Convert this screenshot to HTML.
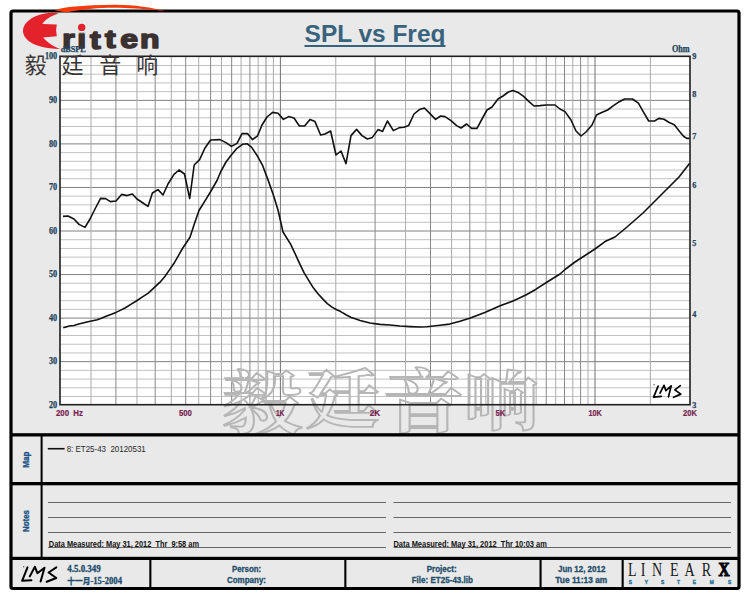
<!DOCTYPE html>
<html><head><meta charset="utf-8"><title>SPL vs Freq</title>
<style>
html,body{margin:0;padding:0;background:#fff;width:750px;height:600px;overflow:hidden}
svg{display:block}
.s{font-family:"Liberation Sans","Noto Sans CJK SC",sans-serif}
.ser{font-family:"Liberation Serif","Noto Serif CJK SC",serif}
.cjk{font-family:"Noto Sans CJK SC","WenQuanYi Zen Hei",sans-serif}
.wm{font-family:"Noto Serif CJK SC","Noto Serif CJK TC",serif}
</style></head><body>
<svg width="750" height="600" viewBox="0 0 750 600">
<rect x="0" y="0" width="750" height="600" fill="#fff"/>
<rect x="11" y="11" width="728" height="577.5" rx="2" fill="#e9e9e9" stroke="#000" stroke-width="3.2"/>

<rect x="60.0" y="56.3" width="630.0" height="348.4" fill="#fff"/>
<line x1="60.0" x2="690.0" y1="396.49" y2="396.49" stroke="#c2c2c2" stroke-width="1"/>
<line x1="60.0" x2="690.0" y1="387.78" y2="387.78" stroke="#c2c2c2" stroke-width="1"/>
<line x1="60.0" x2="690.0" y1="379.07" y2="379.07" stroke="#c2c2c2" stroke-width="1"/>
<line x1="60.0" x2="690.0" y1="370.36" y2="370.36" stroke="#c2c2c2" stroke-width="1"/>
<line x1="60.0" x2="690.0" y1="361.65" y2="361.65" stroke="#808080" stroke-width="1"/>
<line x1="60.0" x2="690.0" y1="352.94" y2="352.94" stroke="#c2c2c2" stroke-width="1"/>
<line x1="60.0" x2="690.0" y1="344.23" y2="344.23" stroke="#c2c2c2" stroke-width="1"/>
<line x1="60.0" x2="690.0" y1="335.52" y2="335.52" stroke="#c2c2c2" stroke-width="1"/>
<line x1="60.0" x2="690.0" y1="326.81" y2="326.81" stroke="#c2c2c2" stroke-width="1"/>
<line x1="60.0" x2="690.0" y1="318.1" y2="318.1" stroke="#808080" stroke-width="1"/>
<line x1="60.0" x2="690.0" y1="309.39" y2="309.39" stroke="#c2c2c2" stroke-width="1"/>
<line x1="60.0" x2="690.0" y1="300.68" y2="300.68" stroke="#c2c2c2" stroke-width="1"/>
<line x1="60.0" x2="690.0" y1="291.97" y2="291.97" stroke="#c2c2c2" stroke-width="1"/>
<line x1="60.0" x2="690.0" y1="283.26" y2="283.26" stroke="#c2c2c2" stroke-width="1"/>
<line x1="60.0" x2="690.0" y1="274.55" y2="274.55" stroke="#808080" stroke-width="1"/>
<line x1="60.0" x2="690.0" y1="265.84" y2="265.84" stroke="#c2c2c2" stroke-width="1"/>
<line x1="60.0" x2="690.0" y1="257.13" y2="257.13" stroke="#c2c2c2" stroke-width="1"/>
<line x1="60.0" x2="690.0" y1="248.42" y2="248.42" stroke="#c2c2c2" stroke-width="1"/>
<line x1="60.0" x2="690.0" y1="239.71" y2="239.71" stroke="#c2c2c2" stroke-width="1"/>
<line x1="60.0" x2="690.0" y1="231.0" y2="231.0" stroke="#808080" stroke-width="1"/>
<line x1="60.0" x2="690.0" y1="222.29" y2="222.29" stroke="#c2c2c2" stroke-width="1"/>
<line x1="60.0" x2="690.0" y1="213.58" y2="213.58" stroke="#c2c2c2" stroke-width="1"/>
<line x1="60.0" x2="690.0" y1="204.87" y2="204.87" stroke="#c2c2c2" stroke-width="1"/>
<line x1="60.0" x2="690.0" y1="196.16" y2="196.16" stroke="#c2c2c2" stroke-width="1"/>
<line x1="60.0" x2="690.0" y1="187.45" y2="187.45" stroke="#808080" stroke-width="1"/>
<line x1="60.0" x2="690.0" y1="178.74" y2="178.74" stroke="#c2c2c2" stroke-width="1"/>
<line x1="60.0" x2="690.0" y1="170.03" y2="170.03" stroke="#c2c2c2" stroke-width="1"/>
<line x1="60.0" x2="690.0" y1="161.32" y2="161.32" stroke="#c2c2c2" stroke-width="1"/>
<line x1="60.0" x2="690.0" y1="152.61" y2="152.61" stroke="#c2c2c2" stroke-width="1"/>
<line x1="60.0" x2="690.0" y1="143.9" y2="143.9" stroke="#808080" stroke-width="1"/>
<line x1="60.0" x2="690.0" y1="135.19" y2="135.19" stroke="#c2c2c2" stroke-width="1"/>
<line x1="60.0" x2="690.0" y1="126.48" y2="126.48" stroke="#c2c2c2" stroke-width="1"/>
<line x1="60.0" x2="690.0" y1="117.77" y2="117.77" stroke="#c2c2c2" stroke-width="1"/>
<line x1="60.0" x2="690.0" y1="109.06" y2="109.06" stroke="#c2c2c2" stroke-width="1"/>
<line x1="60.0" x2="690.0" y1="100.35" y2="100.35" stroke="#808080" stroke-width="1"/>
<line x1="60.0" x2="690.0" y1="91.64" y2="91.64" stroke="#c2c2c2" stroke-width="1"/>
<line x1="60.0" x2="690.0" y1="82.93" y2="82.93" stroke="#c2c2c2" stroke-width="1"/>
<line x1="60.0" x2="690.0" y1="74.22" y2="74.22" stroke="#c2c2c2" stroke-width="1"/>
<line x1="60.0" x2="690.0" y1="65.51" y2="65.51" stroke="#c2c2c2" stroke-width="1"/>
<line x1="90.99" x2="90.99" y1="56.3" y2="404.7" stroke="#ababab" stroke-width="1"/>
<line x1="115.9" x2="115.9" y1="56.3" y2="404.7" stroke="#888888" stroke-width="1"/>
<line x1="136.96" x2="136.96" y1="56.3" y2="404.7" stroke="#ababab" stroke-width="1"/>
<line x1="155.2" x2="155.2" y1="56.3" y2="404.7" stroke="#888888" stroke-width="1"/>
<line x1="171.3" x2="171.3" y1="56.3" y2="404.7" stroke="#ababab" stroke-width="1"/>
<line x1="185.69" x2="185.69" y1="56.3" y2="404.7" stroke="#888888" stroke-width="1"/>
<line x1="198.71" x2="198.71" y1="56.3" y2="404.7" stroke="#ababab" stroke-width="1"/>
<line x1="210.6" x2="210.6" y1="56.3" y2="404.7" stroke="#888888" stroke-width="1"/>
<line x1="221.54" x2="221.54" y1="56.3" y2="404.7" stroke="#ababab" stroke-width="1"/>
<line x1="231.66" x2="231.66" y1="56.3" y2="404.7" stroke="#888888" stroke-width="1"/>
<line x1="241.09" x2="241.09" y1="56.3" y2="404.7" stroke="#ababab" stroke-width="1"/>
<line x1="249.91" x2="249.91" y1="56.3" y2="404.7" stroke="#888888" stroke-width="1"/>
<line x1="258.19" x2="258.19" y1="56.3" y2="404.7" stroke="#ababab" stroke-width="1"/>
<line x1="266.0" x2="266.0" y1="56.3" y2="404.7" stroke="#888888" stroke-width="1"/>
<line x1="273.39" x2="273.39" y1="56.3" y2="404.7" stroke="#ababab" stroke-width="1"/>
<line x1="280.4" x2="280.4" y1="56.3" y2="404.7" stroke="#727272" stroke-width="1"/>
<line x1="335.79" x2="335.79" y1="56.3" y2="404.7" stroke="#ababab" stroke-width="1"/>
<line x1="375.1" x2="375.1" y1="56.3" y2="404.7" stroke="#888888" stroke-width="1"/>
<line x1="405.59" x2="405.59" y1="56.3" y2="404.7" stroke="#ababab" stroke-width="1"/>
<line x1="430.5" x2="430.5" y1="56.3" y2="404.7" stroke="#888888" stroke-width="1"/>
<line x1="451.56" x2="451.56" y1="56.3" y2="404.7" stroke="#ababab" stroke-width="1"/>
<line x1="469.8" x2="469.8" y1="56.3" y2="404.7" stroke="#888888" stroke-width="1"/>
<line x1="485.9" x2="485.9" y1="56.3" y2="404.7" stroke="#ababab" stroke-width="1"/>
<line x1="500.29" x2="500.29" y1="56.3" y2="404.7" stroke="#888888" stroke-width="1"/>
<line x1="513.31" x2="513.31" y1="56.3" y2="404.7" stroke="#ababab" stroke-width="1"/>
<line x1="525.2" x2="525.2" y1="56.3" y2="404.7" stroke="#888888" stroke-width="1"/>
<line x1="536.14" x2="536.14" y1="56.3" y2="404.7" stroke="#ababab" stroke-width="1"/>
<line x1="546.26" x2="546.26" y1="56.3" y2="404.7" stroke="#888888" stroke-width="1"/>
<line x1="555.69" x2="555.69" y1="56.3" y2="404.7" stroke="#ababab" stroke-width="1"/>
<line x1="564.51" x2="564.51" y1="56.3" y2="404.7" stroke="#888888" stroke-width="1"/>
<line x1="572.79" x2="572.79" y1="56.3" y2="404.7" stroke="#ababab" stroke-width="1"/>
<line x1="580.6" x2="580.6" y1="56.3" y2="404.7" stroke="#888888" stroke-width="1"/>
<line x1="587.99" x2="587.99" y1="56.3" y2="404.7" stroke="#ababab" stroke-width="1"/>
<line x1="595.0" x2="595.0" y1="56.3" y2="404.7" stroke="#727272" stroke-width="1"/>
<line x1="650.39" x2="650.39" y1="56.3" y2="404.7" stroke="#ababab" stroke-width="1"/>
<text class="wm" transform="scale(1.1599,1)" font-weight="bold" fill="none" stroke="#b6b6b6" stroke-width="1.8"><tspan x="191.07" y="428.30" font-size="69.68">毅</tspan><tspan x="263.62" y="422.14" font-size="64.12">廷</tspan><tspan x="330.20" y="426.51" font-size="69.86">音</tspan><tspan x="400.31" y="424.13" font-size="63.79">响</tspan></text>
<rect x="60.0" y="56.3" width="630.0" height="348.4" fill="none" stroke="#1e1e1e" stroke-width="1.6"/>
<polyline points="63.3,327.8 69.3,326.0 74.0,325.5 78.7,324.1 88.0,321.7 97.3,319.7 102.0,318.0 106.7,316.1 111.4,314.3 116.0,312.4 120.7,310.1 125.4,307.7 130.8,304.4 136.7,300.7 142.5,296.9 148.3,293.1 154.2,287.6 160.0,282.2 164.7,276.8 169.3,270.1 174.0,263.3 178.7,255.2 182.5,248.5 190.0,237.2 193.8,225.5 199.0,210.5 205.0,200.8 211.0,191.0 217.0,180.5 220.5,172.2 226.0,162.0 231.5,154.7 237.0,148.3 242.5,144.3 247.0,143.7 251.7,147.4 257.2,155.7 262.7,165.7 268.2,180.4 273.7,196.0 278.2,210.7 283.0,232.0 290.6,244.1 294.7,252.8 299.3,262.8 304.0,272.7 308.7,280.3 313.3,287.8 318.0,293.7 322.7,298.9 327.3,303.6 332.0,307.1 336.7,309.8 340.7,311.6 346.0,314.8 351.3,317.5 356.7,319.3 360.0,320.4 370.0,323.0 380.0,324.4 390.0,325.0 400.0,326.0 410.0,326.6 420.0,327.0 427.0,326.8 440.0,325.2 449.6,324.1 460.0,321.3 470.4,318.0 484.8,312.4 500.8,305.5 513.6,300.7 526.4,294.8 536.0,289.2 547.2,282.0 560.0,274.0 565.0,269.5 575.0,262.0 585.0,255.5 595.0,249.0 605.0,241.6 615.0,237.0 627.0,227.0 635.0,220.0 643.0,213.0 651.0,205.0 659.0,197.0 667.0,189.0 679.0,177.0 689.5,163.5" fill="none" stroke="#111" stroke-width="1.6" stroke-linejoin="round"/>
<polyline points="63.0,216.4 68.0,216.0 74.0,219.0 79.0,224.4 85.0,227.4 90.0,219.0 95.0,209.0 100.6,198.4 105.6,198.6 110.4,201.6 116.0,201.0 121.6,194.4 127.0,195.6 132.4,194.0 137.0,199.0 143.0,203.0 148.0,206.4 152.4,193.0 158.0,189.6 163.0,195.0 168.0,184.0 174.0,174.4 179.0,170.0 184.5,174.0 189.7,198.5 194.2,165.0 199.6,159.6 205.0,148.0 210.6,140.0 220.0,139.6 226.0,142.6 231.4,146.4 237.0,143.4 242.0,133.6 247.4,133.6 252.4,139.6 257.6,135.8 262.0,125.0 267.0,117.0 272.6,112.4 278.0,113.2 283.4,119.4 288.6,116.6 294.0,118.0 299.4,126.0 304.6,126.0 310.0,119.4 315.0,121.6 320.6,135.0 325.0,134.0 330.6,131.0 336.0,155.0 341.0,151.0 346.0,163.6 351.0,135.6 356.6,129.4 362.0,135.6 367.4,139.0 372.4,137.4 378.0,129.6 382.6,131.4 387.4,121.0 393.4,130.6 399.4,127.6 404.0,127.2 408.6,125.6 414.0,114.0 419.4,109.6 424.4,108.0 430.0,113.6 435.6,119.4 440.6,116.0 445.0,116.6 451.0,120.6 456.6,125.6 461.0,128.0 466.6,124.0 471.6,128.4 477.0,128.4 482.0,119.0 487.0,110.0 492.0,107.0 498.0,99.0 503.0,96.0 508.4,92.0 513.0,90.6 518.0,92.4 523.6,96.4 529.0,101.6 534.0,106.0 540.0,105.6 546.0,105.0 555.0,105.0 560.0,109.0 565.0,111.6 571.0,120.0 576.0,131.0 581.0,136.0 586.0,132.0 592.0,125.0 596.5,115.0 601.7,112.6 607.6,110.0 613.5,105.7 619.3,101.7 624.5,99.0 632.5,99.0 638.4,103.2 642.8,110.8 648.7,121.0 654.5,121.0 658.9,118.4 664.0,119.3 669.2,122.5 674.3,124.7 679.4,131.3 683.8,136.5 686.8,138.4 689.5,138.4" fill="none" stroke="#111" stroke-width="1.6" stroke-linejoin="round"/>
<text class="ser" x="57.2" y="407.8" font-size="9.6" font-weight="bold" fill="#21435c" text-anchor="end" textLength="8.2" lengthAdjust="spacingAndGlyphs" stroke="#21435c" stroke-width="0.25" xml:space="preserve">20</text>
<text class="ser" x="57.2" y="364.3" font-size="9.6" font-weight="bold" fill="#21435c" text-anchor="end" textLength="8.2" lengthAdjust="spacingAndGlyphs" stroke="#21435c" stroke-width="0.25" xml:space="preserve">30</text>
<text class="ser" x="57.2" y="320.7" font-size="9.6" font-weight="bold" fill="#21435c" text-anchor="end" textLength="8.2" lengthAdjust="spacingAndGlyphs" stroke="#21435c" stroke-width="0.25" xml:space="preserve">40</text>
<text class="ser" x="57.2" y="277.2" font-size="9.6" font-weight="bold" fill="#21435c" text-anchor="end" textLength="8.2" lengthAdjust="spacingAndGlyphs" stroke="#21435c" stroke-width="0.25" xml:space="preserve">50</text>
<text class="ser" x="57.2" y="233.6" font-size="9.6" font-weight="bold" fill="#21435c" text-anchor="end" textLength="8.2" lengthAdjust="spacingAndGlyphs" stroke="#21435c" stroke-width="0.25" xml:space="preserve">60</text>
<text class="ser" x="57.2" y="190.0" font-size="9.6" font-weight="bold" fill="#21435c" text-anchor="end" textLength="8.2" lengthAdjust="spacingAndGlyphs" stroke="#21435c" stroke-width="0.25" xml:space="preserve">70</text>
<text class="ser" x="57.2" y="146.5" font-size="9.6" font-weight="bold" fill="#21435c" text-anchor="end" textLength="8.2" lengthAdjust="spacingAndGlyphs" stroke="#21435c" stroke-width="0.25" xml:space="preserve">80</text>
<text class="ser" x="57.2" y="102.9" font-size="9.6" font-weight="bold" fill="#21435c" text-anchor="end" textLength="8.2" lengthAdjust="spacingAndGlyphs" stroke="#21435c" stroke-width="0.25" xml:space="preserve">90</text>
<text class="ser" x="57.2" y="59.4" font-size="9.6" font-weight="bold" fill="#21435c" text-anchor="end" textLength="12.299999999999999" lengthAdjust="spacingAndGlyphs" stroke="#21435c" stroke-width="0.25" xml:space="preserve">100</text>
<text class="ser" x="692.3" y="407.8" font-size="9.2" font-weight="bold" fill="#1d4260" textLength="4.1" lengthAdjust="spacingAndGlyphs" stroke="#1d4260" stroke-width="0.25" xml:space="preserve">3</text>
<text class="ser" x="692.3" y="316.6" font-size="9.2" font-weight="bold" fill="#1d4260" textLength="4.1" lengthAdjust="spacingAndGlyphs" stroke="#1d4260" stroke-width="0.25" xml:space="preserve">4</text>
<text class="ser" x="692.3" y="245.8" font-size="9.2" font-weight="bold" fill="#1d4260" textLength="4.1" lengthAdjust="spacingAndGlyphs" stroke="#1d4260" stroke-width="0.25" xml:space="preserve">5</text>
<text class="ser" x="692.3" y="188.0" font-size="9.2" font-weight="bold" fill="#1d4260" textLength="4.1" lengthAdjust="spacingAndGlyphs" stroke="#1d4260" stroke-width="0.25" xml:space="preserve">6</text>
<text class="ser" x="692.3" y="139.1" font-size="9.2" font-weight="bold" fill="#1d4260" textLength="4.1" lengthAdjust="spacingAndGlyphs" stroke="#1d4260" stroke-width="0.25" xml:space="preserve">7</text>
<text class="ser" x="692.3" y="96.8" font-size="9.2" font-weight="bold" fill="#1d4260" textLength="4.1" lengthAdjust="spacingAndGlyphs" stroke="#1d4260" stroke-width="0.25" xml:space="preserve">8</text>
<text class="ser" x="692.3" y="59.4" font-size="9.2" font-weight="bold" fill="#1d4260" textLength="4.1" lengthAdjust="spacingAndGlyphs" stroke="#1d4260" stroke-width="0.25" xml:space="preserve">9</text>
<text class="ser" x="671.9" y="51.8" font-size="9.5" font-weight="bold" fill="#1d4260" textLength="17.8" lengthAdjust="spacingAndGlyphs" stroke="#1d4260" stroke-width="0.25" xml:space="preserve">Ohm</text>
<text class="s" x="55.9" y="416" font-size="9.6" font-weight="bold" fill="#76214f" textLength="27.1" lengthAdjust="spacingAndGlyphs" stroke="#76214f" stroke-width="0.2" xml:space="preserve">200  Hz</text>
<text class="s" x="178.9" y="416" font-size="9.6" font-weight="bold" fill="#76214f" textLength="13" lengthAdjust="spacingAndGlyphs" stroke="#76214f" stroke-width="0.2" xml:space="preserve">500</text>
<text class="s" x="275.9" y="416" font-size="9.6" font-weight="bold" fill="#76214f" textLength="8.5" lengthAdjust="spacingAndGlyphs" stroke="#76214f" stroke-width="0.2" xml:space="preserve">1K</text>
<text class="s" x="369.8" y="416" font-size="9.6" font-weight="bold" fill="#76214f" textLength="10.5" lengthAdjust="spacingAndGlyphs" stroke="#76214f" stroke-width="0.2" xml:space="preserve">2K</text>
<text class="s" x="495.5" y="416" font-size="9.6" font-weight="bold" fill="#76214f" textLength="9.8" lengthAdjust="spacingAndGlyphs" stroke="#76214f" stroke-width="0.2" xml:space="preserve">5K</text>
<text class="s" x="588.4" y="416" font-size="9.6" font-weight="bold" fill="#76214f" textLength="13.5" lengthAdjust="spacingAndGlyphs" stroke="#76214f" stroke-width="0.2" xml:space="preserve">10K</text>
<text class="s" x="683.0" y="416" font-size="9.6" font-weight="bold" fill="#76214f" textLength="14" lengthAdjust="spacingAndGlyphs" stroke="#76214f" stroke-width="0.2" xml:space="preserve">20K</text>
<text class="s" x="304.6" y="42.3" font-size="24.6" font-weight="bold" fill="#38637d" textLength="140.8" lengthAdjust="spacingAndGlyphs" xml:space="preserve">SPL vs Freq</text>
<rect x="304.5" y="45" width="141" height="2" fill="#38637d"/>
<rect x="11" y="433.2" width="728" height="3.3" fill="#000"/>
<rect x="11" y="482" width="728" height="3.3" fill="#000"/>
<rect x="11" y="556.8" width="728" height="3.2" fill="#000"/>
<rect x="40.6" y="436" width="2" height="121" fill="#000"/>
<rect x="149.3" y="559" width="2.1" height="28.5" fill="#000"/>
<rect x="344.3" y="559" width="2.1" height="28.5" fill="#000"/>
<rect x="539.5" y="559" width="2.1" height="28.5" fill="#000"/>
<rect x="621.6" y="559" width="2.1" height="28.5" fill="#000"/>
<text class="s" transform="translate(29.3,467.8) rotate(-90)" font-size="8.6" font-weight="bold" fill="#1d5387" stroke="#1d5387" stroke-width="0.35" textLength="16.3" lengthAdjust="spacingAndGlyphs">Map</text>
<text class="s" transform="translate(29.4,531.9) rotate(-90)" font-size="9" font-weight="bold" fill="#1d5387" stroke="#1d5387" stroke-width="0.35" textLength="21.8" lengthAdjust="spacingAndGlyphs">Notes</text>
<line x1="47.8" x2="64.6" y1="448.7" y2="448.7" stroke="#111" stroke-width="1.6"/>
<text class="s" x="66.7" y="451.6" font-size="8.4" fill="#2a2a2a" textLength="79.1" lengthAdjust="spacingAndGlyphs" xml:space="preserve">8: ET25-43  20120531</text>
<line x1="48" x2="386" y1="502.5" y2="502.5" stroke="#666" stroke-width="1.1"/>
<line x1="393.5" x2="731" y1="502.5" y2="502.5" stroke="#666" stroke-width="1.1"/>
<line x1="48" x2="386" y1="517.5" y2="517.5" stroke="#666" stroke-width="1.1"/>
<line x1="393.5" x2="731" y1="517.5" y2="517.5" stroke="#666" stroke-width="1.1"/>
<line x1="48" x2="386" y1="532.5" y2="532.5" stroke="#666" stroke-width="1.1"/>
<line x1="393.5" x2="731" y1="532.5" y2="532.5" stroke="#666" stroke-width="1.1"/>
<line x1="48" x2="386" y1="547.5" y2="547.5" stroke="#666" stroke-width="1.1"/>
<line x1="393.5" x2="731" y1="547.5" y2="547.5" stroke="#666" stroke-width="1.1"/>
<text class="s" x="48.8" y="546.7" font-size="8.2" font-weight="bold" fill="#111" textLength="150.2" lengthAdjust="spacingAndGlyphs" xml:space="preserve">Data Measured: May 31, 2012  Thr  9:58 am</text>
<text class="s" x="393.4" y="546.7" font-size="8.2" font-weight="bold" fill="#111" textLength="153.5" lengthAdjust="spacingAndGlyphs" xml:space="preserve">Data Measured: May 31, 2012  Thr 10:03 am</text>
<text class="ser" x="67.3" y="572" font-size="9.4" font-weight="bold" fill="#234d6b" textLength="33.4" lengthAdjust="spacingAndGlyphs" stroke="#234d6b" stroke-width="0.3" xml:space="preserve">4.5.0.349</text>
<text class="ser" x="67.3" y="583.6" font-size="9.4" font-weight="bold" fill="#234d6b" stroke="#234d6b" stroke-width="0.3" textLength="54.7" lengthAdjust="spacingAndGlyphs"><tspan class="cjk" font-size="8.4">十一月</tspan>-15-2004</text>
<text class="s" x="231.9" y="571.9" font-size="8.8" font-weight="bold" fill="#234d6b" textLength="29.3" lengthAdjust="spacingAndGlyphs" stroke="#234d6b" stroke-width="0.3" xml:space="preserve">Person:</text>
<text class="s" x="226.9" y="582.8" font-size="8.8" font-weight="bold" fill="#234d6b" textLength="39.1" lengthAdjust="spacingAndGlyphs" stroke="#234d6b" stroke-width="0.3" xml:space="preserve">Company:</text>
<text class="s" x="426.7" y="571.9" font-size="8.8" font-weight="bold" fill="#234d6b" textLength="30" lengthAdjust="spacingAndGlyphs" stroke="#234d6b" stroke-width="0.3" xml:space="preserve">Project:</text>
<text class="s" x="411.7" y="583.3" font-size="8.8" font-weight="bold" fill="#234d6b" textLength="61.3" lengthAdjust="spacingAndGlyphs" stroke="#234d6b" stroke-width="0.3" xml:space="preserve">File: ET25-43.lib</text>
<text class="s" x="558" y="572" font-size="8.8" font-weight="bold" fill="#234d6b" textLength="47.3" lengthAdjust="spacingAndGlyphs" stroke="#234d6b" stroke-width="0.3" xml:space="preserve">Jun 12, 2012</text>
<text class="s" x="555.3" y="583.3" font-size="8.8" font-weight="bold" fill="#234d6b" textLength="52" lengthAdjust="spacingAndGlyphs" stroke="#234d6b" stroke-width="0.3" xml:space="preserve">Tue 11:13 am</text>
<text class="ser" transform="scale(0.7825,1)" font-size="18.00" fill="#1a1a1a"><tspan x="802.70" y="575.99">L</tspan><tspan x="818.71" y="575.99">I</tspan><tspan x="833.25" y="575.99">N</tspan><tspan x="856.09" y="575.99">E</tspan><tspan x="874.68" y="576.04">A</tspan><tspan x="896.68" y="575.99">R</tspan><tspan x="918.35" y="576.50" font-size="19.56" font-weight="bold" fill="#000" stroke="#000" stroke-width="1.2">X</tspan></text>
<text class="s" transform="scale(0.8758,1)" font-size="5.46" fill="#357aa3" stroke="#357aa3" stroke-width="0.6"><tspan x="718.02" y="583.68">S</tspan><tspan x="736.06" y="583.68">Y</tspan><tspan x="754.85" y="583.68">S</tspan><tspan x="773.15" y="583.68">T</tspan><tspan x="790.99" y="583.68">E</tspan><tspan x="810.29" y="583.68">M</tspan><tspan x="831.29" y="583.68">S</tspan></text>
<g fill="none" stroke="#000" stroke-width="1.7" stroke-linecap="round" stroke-linejoin="round"><path d="M658.1,386.1 L653.6,397.1 L661.3,396.3"/><path d="M660.0,393.1 L664.0,385.3 L665.9,390.7 L671.2,385.9 L668.5,396.8"/><path d="M680.3,385.6 L674.9,389.9 L680.8,394.1 L673.6,397.3"/></g><circle cx="654.1" cy="384.8" r="0.7" fill="#555"/>
<g fill="none" stroke="#000" stroke-width="2.0" stroke-linecap="round" stroke-linejoin="round"><path d="M27.5,567.4 L22.1,580.8 L31.4,580.2"/><path d="M29.8,576.4 L34.9,566.8 L37.4,573.2 L44.5,567.7 L40.6,581.5"/><path d="M56.3,567.4 L48.6,572.5 L56.3,578.0 L46.7,581.8"/></g><circle cx="23.7" cy="566.8" r="0.7" fill="#555"/>
<path d="M54.7,10.3 C60,8.6 66,7.3 72,6.8 C85,5.4 100,4.7 115,4.7 C135,4.8 152,7.5 166,11.2 C150,9.6 140,8.4 125,8 C112,7.7 100,7.9 92,8.8 C84,9.6 74,11 66,12.4 Z" fill="#f53a0c"/>
<path d="M58.8,13.5 C48,11.3 34,15 27,22 C21,28 22,35 28,40.5 C34,45.5 45,48.6 60.3,49.1 C53,46.5 47,42 43.1,37.6 L56.8,36.2 Q55.3,30.5 56.8,24.6 L42.3,24 C45,20 50,16 58.8,13.5 Z" fill="#e3222b"/>
<clipPath id="idot"><path clip-rule="evenodd" d="M0,0H750V600H0Z M76.5,18H87V32.4H76.5Z"/></clipPath>
<g clip-path="url(#idot)"><text class="s" transform="scale(1.2006,1)" font-size="26.67" font-weight="bold" fill="#3b3131" stroke="#3b3131" stroke-width="1.6" stroke-linejoin="round"><tspan x="51.90" y="47.88">r</tspan><tspan x="64.29" y="48.09">i</tspan><tspan x="74.98" y="48.53">t</tspan><tspan x="87.51" y="48.43">t</tspan><tspan x="100.17" y="48.29">e</tspan><tspan x="116.53" y="48.08">n</tspan></text></g>
<circle cx="81.7" cy="27.4" r="3.7" fill="#e3222b"/>
<text class="cjk" x="24.8 61.6 99.3 136.2" y="73.2" font-size="22" font-weight="400" fill="#3a3535">毅廷音响</text>
<text class="ser" x="60.8" y="51.7" font-size="7.2" font-weight="bold" fill="#21435c" textLength="25" lengthAdjust="spacingAndGlyphs" stroke="#21435c" stroke-width="0.25" xml:space="preserve">dBSPL</text>
</svg></body></html>
